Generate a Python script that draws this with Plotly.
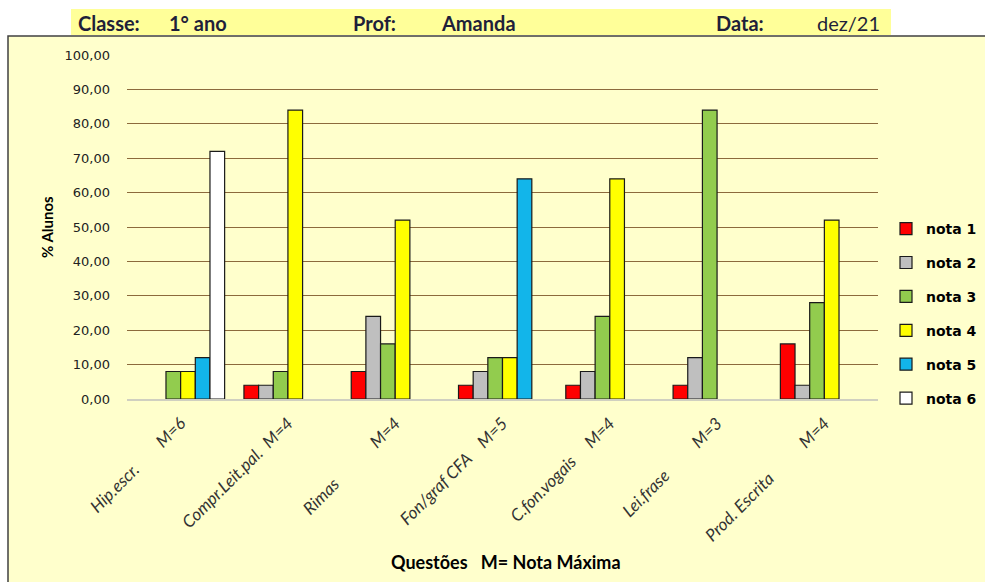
import plotly.graph_objects as go

NB = "\u00a0"
questions = [
    "Hip.escr." + NB * 8 + "M=6",
    "Compr.Leit.pal." + NB * 2 + "M=4",
    "Rimas" + NB * 13 + "M=4",
    "Fon/graf CFA" + NB * 4 + "M=5",
    "C.fon.vogais" + NB * 5 + "M=4",
    "Lei.frase" + NB * 10 + "M=3",
    "Prod. Escrita" + NB * 11 + "M=4",
]
series_names = ["nota 1", "nota 2", "nota 3", "nota 4", "nota 5", "nota 6"]
nota1 = [0, 4, 8, 4, 4, 4, 16]
nota2 = [0, 4, 24, 8, 8, 12, 4]
nota3 = [8, 8, 16, 12, 24, 84, 28]
nota4 = [8, 84, 52, 12, 64, 0, 52]
nota5 = [12, 0, 0, 64, 0, 0, 0]
nota6 = [72, 0, 0, 0, 0, 0, 0]
y_ticks = [0, 10, 20, 30, 40, 50, 60, 70, 80, 90, 100]

colors = ["#FF0000", "#BFBFBF", "#92CC4E", "#FFFF00", "#12B5EA", "#FFFFFF"]
all_series = [nota1, nota2, nota3, nota4, nota5, nota6]

W, H = 985, 582
L, R, T, B = 127, 878, 55, 399  # plot area in px


def px(x):
    return (x - L) / (R - L)


def py(y):
    return (B - y) / (B - T)


fig = go.Figure()
for name, vals, col in zip(series_names, all_series, colors):
    fig.add_trace(go.Bar(
        x=questions,
        y=[v if v else None for v in vals],
        name=name,
        legendgroup=name,
        marker=dict(color=col, line=dict(color="#1a1a1a", width=1.2)),
    ))

shapes = [
    # chart area
    dict(type="rect", xref="paper", yref="paper", x0=px(8), x1=px(995), y0=py(595), y1=py(36),
         fillcolor="#FFFFCC", line=dict(color="#404040", width=1.5), layer="below"),
    # header band
    dict(type="rect", xref="paper", yref="paper", x0=px(71), x1=px(891), y0=py(35), y1=py(9),
         fillcolor="#FFFF99", line=dict(width=0), layer="below"),
]

hdr_font = dict(family="Lato", size=20, color="#1F1F3A")
annotations = [
    dict(text="<b>Classe:</b>", x=px(76), y=py(23), xanchor="left", yanchor="middle", font=hdr_font),
    dict(text="<b>1° ano</b>", x=px(167), y=py(23), xanchor="left", yanchor="middle", font=hdr_font),
    dict(text="<b>Prof:</b>", x=px(351), y=py(23), xanchor="left", yanchor="middle", font=hdr_font),
    dict(text="<b>Amanda</b>", x=px(439), y=py(23), xanchor="left", yanchor="middle", font=hdr_font),
    dict(text="<b>Data:</b>", x=px(714), y=py(23), xanchor="left", yanchor="middle", font=hdr_font),
    dict(text="dez/21", x=px(882), y=py(23), xanchor="right", yanchor="middle", font=hdr_font),
    dict(text="<b>% Alunos</b>", x=px(47), y=0.5, xanchor="center", yanchor="middle", textangle=-90,
         font=dict(family="Lato", size=15, color="#000000")),
    dict(text="<b>Questões" + NB * 3 + "M= Nota Máxima</b>", x=px(506), y=py(562), xanchor="center",
         yanchor="middle", font=dict(family="Lato", size=18, color="#000000")),
]
for a in annotations:
    a.update(xref="paper", yref="paper", showarrow=False)

fig.update_layout(
    template="none",
    width=W, height=H,
    margin=dict(l=L, r=W - R, t=T, b=H - B, autoexpand=False),
    paper_bgcolor="#FFFFFF",
    plot_bgcolor="rgba(0,0,0,0)",
    barmode="group",
    bargap=0.18,
    bargroupgap=0,
    separators=",.",
    shapes=shapes,
    annotations=annotations,
    showlegend=True,
    legend=dict(
        x=px(886), y=py(213), xanchor="left", yanchor="top",
        font=dict(family="DejaVu Sans", size=14, color="#000000", weight="bold"),
        bgcolor="rgba(0,0,0,0)", tracegroupgap=12.7, itemclick=False,
    ),
    xaxis=dict(
        type="category", tickangle=-45, automargin=False, showgrid=False,
        showline=True, linecolor="#D0D0C0", linewidth=1.5, zeroline=False, ticks="",
        tickfont=dict(family="Lato", size=17, color="#333333", style="italic"),
        ticklabelstandoff=6,
    ),
    yaxis=dict(
        range=[0, 100], tickvals=y_ticks, tickformat=".2f", automargin=False,
        showgrid=True, gridcolor="#8C6A3C", gridwidth=1,
        zeroline=False, showline=False, ticks="",
        tickfont=dict(family="DejaVu Sans", size=13, color="#222222"),
        ticklabelstandoff=16,
    ),
)

fig.write_html("out.html")
